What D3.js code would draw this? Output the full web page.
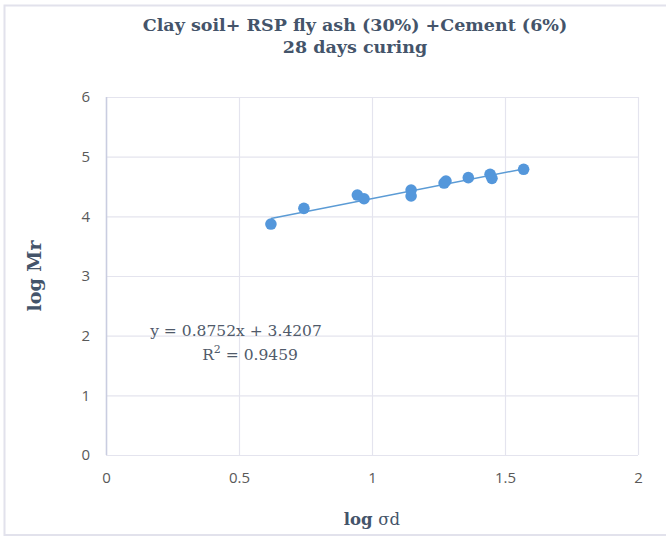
<!DOCTYPE html>
<html><head><meta charset="utf-8">
<script src="https://cdn.jsdelivr.net/npm/d3@7"></script>
<style>body{margin:0;background:#fff}svg{display:block}</style>
</head><body>
<script>
const logSd = [0.620, 0.744, 0.945, 0.970, 1.147, 1.147, 1.271, 1.278, 1.362, 1.444, 1.451, 1.570];
const logMr = [3.871, 4.134, 4.357, 4.295, 4.441, 4.341, 4.558, 4.592, 4.648, 4.704, 4.637, 4.788];
const slope = 0.8752, intercept = 3.4207, r2 = 0.9459;
const xTicks = [0, 0.5, 1, 1.5, 2];
const yTicks = [0, 1, 2, 3, 4, 5, 6];
const titleLines = ["Clay soil+ RSP fly ash (30%) +Cement (6%)", "28 days curing"];

const W = 666, H = 536;
const svg = d3.select("body").append("svg").attr("width", W).attr("height", H);
svg.append("rect").attr("x", 4.5).attr("y", 5.5).attr("width", W).attr("height", H - 6.5)
  .attr("fill", "#fff").attr("stroke", "#e2e2ec").attr("stroke-width", 2);

const x = d3.scaleLinear().domain([0, 2]).range([106, 638]);
const y = d3.scaleLinear().domain([0, 6]).range([455, 97]);

// gridlines
svg.append("g").selectAll("line").data(yTicks).join("line")
  .attr("x1", x(0)).attr("x2", x(2)).attr("y1", d => y(d) + 0.5).attr("y2", d => y(d) + 0.5)
  .attr("stroke", "#e4e4ee").attr("stroke-width", 1.2);
svg.append("g").selectAll("line").data(xTicks).join("line")
  .attr("y1", y(0)).attr("y2", y(6)).attr("x1", d => x(d) + 0.5).attr("x2", d => x(d) + 0.5)
  .attr("stroke", d => d === 0 ? "#c9cde0" : "#e4e4ee").attr("stroke-width", d => d === 0 ? 1.6 : 1.2);

// axes labels via d3 axes
const fmt = d => String(d);
const gx = svg.append("g").attr("transform", `translate(0,${y(0)})`)
  .call(d3.axisBottom(x).tickValues(xTicks).tickFormat(fmt).tickSize(0).tickPadding(17));
gx.select(".domain").remove();
gx.selectAll("text").attr("font-family", "'Open Sans', sans-serif").attr("font-size", 15).attr("fill", "#595959");
const gy = svg.append("g").attr("transform", `translate(${x(0)},0)`)
  .call(d3.axisLeft(y).tickValues(yTicks).tickFormat(fmt).tickSize(0).tickPadding(16));
gy.select(".domain").remove();
gy.selectAll("text").attr("font-family", "'Open Sans', sans-serif").attr("font-size", 15).attr("fill", "#595959");

// trendline
const xmin = d3.min(logSd), xmax = d3.max(logSd);
svg.append("line")
  .attr("x1", x(xmin)).attr("y1", y(slope * xmin + intercept))
  .attr("x2", x(xmax)).attr("y2", y(slope * xmax + intercept))
  .attr("stroke", "#5b9bd5").attr("stroke-width", 1.5);

// points
svg.append("g").selectAll("circle").data(logSd).join("circle")
  .attr("cx", (d) => x(d)).attr("cy", (d, i) => y(logMr[i])).attr("r", 5.8)
  .attr("fill", "#5497db");

// title
const serif = "'DejaVu Serif', 'Liberation Serif', serif";
svg.append("g").selectAll("text").data(titleLines).join("text")
  .attr("x", 355).attr("y", (d, i) => 31 + i * 22).attr("text-anchor", "middle")
  .attr("font-family", serif).attr("font-weight", "bold").attr("font-size", 17.5)
  .attr("fill", "#44546a").text(d => d);

// equation
const eq = svg.append("g").attr("font-family", serif).attr("font-size", 15.5).attr("fill", "#505a6a");
eq.append("text").attr("x", 236).attr("y", 336).attr("text-anchor", "middle")
  .text(`y = ${slope}x + ${intercept}`);
const r2t = eq.append("text").attr("x", 250).attr("y", 360).attr("text-anchor", "middle");
r2t.append("tspan").text("R");
r2t.append("tspan").attr("dy", -7).attr("font-size", 11).text("2");
r2t.append("tspan").attr("dy", 7).text(` = ${r2}`);

// axis titles
const xt = svg.append("text").attr("x", 372).attr("y", 525).attr("text-anchor", "middle")
  .attr("font-family", serif).attr("font-size", 16.5).attr("fill", "#44546a");
xt.append("tspan").attr("font-weight", "bold").text("log ");
xt.append("tspan").text("σd");
svg.append("text").attr("transform", `translate(41,${(y(0) + y(6)) / 2}) rotate(-90)`)
  .attr("text-anchor", "middle").attr("font-family", serif).attr("font-weight", "bold")
  .attr("font-size", 19).attr("fill", "#44546a").text("log Mr");
</script>
</body></html>
